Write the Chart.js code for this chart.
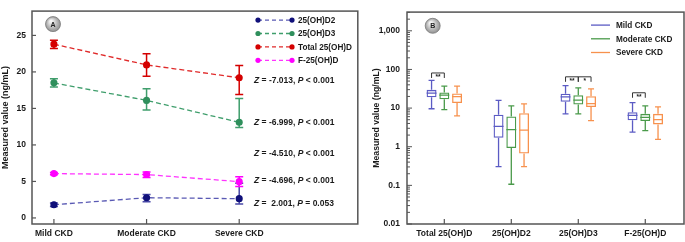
<!DOCTYPE html>
<html><head><meta charset="utf-8">
<script src="https://cdn.jsdelivr.net/npm/chart.js@4/dist/chart.umd.min.js"></script>
<style>
html,body{margin:0;padding:0;background:#fff;}
body{width:685px;height:242px;overflow:hidden;position:relative;}
#ca{position:absolute;left:0;top:0;}
#cb{position:absolute;left:362px;top:0;}
</style></head>
<body>
<canvas id="ca" width="362" height="242" style="width:362px;height:242px"></canvas>
<canvas id="cb" width="323" height="242" style="width:323px;height:242px"></canvas>
<script>
// ---------- Panel A data ----------
const catsA = ['Mild CKD', 'Moderate CKD', 'Severe CKD'];
const yTicksA = [0, 5, 10, 15, 20, 25];
const namesA = ['25(OH)D2', '25(OH)D3', 'Total 25(OH)D', 'F-25(OH)D'];
const d2Mean = [1.81, 2.77, 2.64];
const d2Low  = [1.58, 2.22, 1.90];
const d2High = [2.04, 3.20, 4.75];
const d3Mean = [18.5, 16.1, 13.1];
const d3Low  = [17.95, 14.8, 12.4];
const d3High = [19.05, 17.7, 16.35];
const totMean = [23.8, 20.96, 19.2];
const totLow  = [23.2, 19.4, 16.9];
const totHigh = [24.35, 22.5, 20.87];
const fMean = [6.07, 5.94, 4.97];
const fLow  = [5.90, 5.54, 4.30];
const fHigh = [6.24, 6.29, 5.63];
const zValues = [-7.013, -6.999, -4.510, -4.696, 2.001];
const pSigns  = ['<', '<', '<', '<', '='];
const pValues = ['0.001', '0.001', '0.001', '0.001', '0.053'];

// ---------- Panel B data ----------
const catsB = ['Total 25(OH)D', '25(OH)D2', '25(OH)D3', 'F-25(OH)D'];
const groupsB = ['Mild CKD', 'Moderate CKD', 'Severe CKD'];
const yTicksB = [0.01, 0.1, 1, 10, 100, 1000];
const yTickLabelsB = ['0.01', '0.1', '1', '10', '100', '1,000'];
const mildMin = [9.6, 0.306, 7.1, 2.4];
const mildQ1  = [19.1, 1.70, 14.6, 4.84];
const mildMed = [24.4, 3.38, 19.4, 6.44];
const mildQ3  = [29.6, 6.7, 23.5, 7.8];
const mildMax = [52.4, 15.8, 37.9, 13.8];
const modMin = [9.1, 0.107, 7.1, 2.62];
const modQ1  = [17.0, 0.92, 12.3, 4.65];
const modMed = [21.7, 2.78, 16.1, 5.74];
const modQ3  = [25.4, 6.1, 21.4, 7.1];
const modMax = [37.2, 11.4, 33.2, 11.4];
const sevMin = [6.3, 0.306, 4.75, 1.55];
const sevQ1  = [13.5, 0.667, 10.6, 3.78];
const sevMed = [19.9, 2.69, 13.0, 5.03];
const sevQ3  = [24.0, 7.35, 20.2, 7.1];
const sevMax = [37.0, 12.8, 31.3, 10.8];
const sigCats   = [0, 2, 2, 3];
const sigFrom   = [0, 0, 1, 0];
const sigTo     = [1, 1, 2, 1];
const sigLabels = ['**', '**', '*', '**'];

// ---------- styling / layout (not data) ----------
const FONT = "'Liberation Sans', Arial, Helvetica, sans-serif";
const TXT = '#1a1a1a';
const FRAME = '#555555';
const styA = [
  {line: '#5a5ab4', dot: '#10107a', err: '#4a4aa8'},
  {line: '#3f9e6c', dot: '#2f8f5c', err: '#3f9e6c'},
  {line: '#e02a2a', dot: '#d40000', err: '#d40000'},
  {line: '#ff33ff', dot: '#ff00ff', err: '#ff00ff'}
];
const colB = ['#5b5bc4', '#4a9a4a', '#f7914d'];
const statYA = [18.83, 13.02, 8.8, 5.1, 1.94]; // annotation rows (value units)
const statXA = 2.16;
const sigLevelB = [81, 64.4, 64.4, 24.9];

const seriesA = [
  {mean: d2Mean, low: d2Low, high: d2High},
  {mean: d3Mean, low: d3Low, high: d3High},
  {mean: totMean, low: totLow, high: totHigh},
  {mean: fMean, low: fLow, high: fHigh}
];

function drawFrame(chart) {
  const {ctx, chartArea: a} = chart;
  ctx.save();
  ctx.strokeStyle = FRAME; ctx.lineWidth = 1.5;
  ctx.strokeRect(a.left, a.top, a.right - a.left, a.bottom - a.top);
  ctx.restore();
}
function badge(ctx, cx, cy, letter) {
  ctx.save();
  const g = ctx.createRadialGradient(cx - 2, cy - 3, 1, cx, cy, 8);
  g.addColorStop(0, '#f6f6f6'); g.addColorStop(1, '#8c8c8c');
  ctx.beginPath(); ctx.arc(cx, cy, 7.5, 0, 2 * Math.PI);
  ctx.fillStyle = g; ctx.fill();
  ctx.strokeStyle = '#7a7a7a'; ctx.lineWidth = 0.8; ctx.stroke();
  ctx.fillStyle = '#222'; ctx.font = 'bold 7px ' + FONT;
  ctx.textAlign = 'center'; ctx.textBaseline = 'middle';
  ctx.fillText(letter, cx, cy + 0.5);
  ctx.restore();
}

// ---------- Panel A ----------
const plugA = {
  id: 'plugA',
  beforeDatasetsDraw(chart) {
    const {ctx, scales: {x, y}} = chart;
    ctx.save();
    seriesA.forEach((s, k) => {
      ctx.strokeStyle = styA[k].err; ctx.lineWidth = 1.5;
      s.mean.forEach((m, i) => {
        const px = x.getPixelForValue(i);
        const lo = y.getPixelForValue(s.low[i]);
        const hi = y.getPixelForValue(s.high[i]);
        ctx.beginPath();
        ctx.moveTo(px, lo); ctx.lineTo(px, hi);
        ctx.moveTo(px - 4, lo); ctx.lineTo(px + 4, lo);
        ctx.moveTo(px - 4, hi); ctx.lineTo(px + 4, hi);
        ctx.stroke();
      });
    });
    ctx.restore();
  },
  afterDraw(chart) {
    const {ctx, chartArea: a, scales: {x, y}} = chart;
    drawFrame(chart);
    ctx.save();
    ctx.strokeStyle = FRAME; ctx.lineWidth = 1.2;
    yTicksA.forEach(v => { const py = y.getPixelForValue(v); ctx.beginPath(); ctx.moveTo(a.left, py); ctx.lineTo(a.left + 4, py); ctx.stroke(); });
    catsA.forEach((c, i) => { const px = x.getPixelForValue(i); ctx.beginPath(); ctx.moveTo(px, a.bottom); ctx.lineTo(px, a.bottom - 5); ctx.stroke(); });
    // legend
    ctx.textAlign = 'left'; ctx.textBaseline = 'middle';
    namesA.forEach((n, k) => {
      const ly = a.top + 9 + k * 13.4, lx0 = 258, lx1 = 292;
      ctx.strokeStyle = styA[k].line; ctx.lineWidth = 1.3; ctx.setLineDash([4, 3]);
      ctx.beginPath(); ctx.moveTo(lx0, ly); ctx.lineTo(lx1, ly); ctx.stroke();
      ctx.setLineDash([]);
      ctx.fillStyle = styA[k].dot;
      [lx0, lx1].forEach(px => { ctx.beginPath(); ctx.arc(px, ly, 2.6, 0, 2 * Math.PI); ctx.fill(); });
      ctx.fillStyle = TXT; ctx.font = 'bold 8.2px ' + FONT;
      ctx.fillText(n, 298, ly + 0.5);
    });
    // statistics
    zValues.forEach((z, i) => {
      let px = x.getPixelForValue(statXA);
      const py = y.getPixelForValue(statYA[i]);
      const zs = z < 0 ? z.toFixed(3) : ' ' + z.toFixed(3);
      const parts = [['Z', 'italic bold'], [' = ' + zs + ', ', 'bold'], ['P', 'italic bold'], [' ' + pSigns[i] + ' ' + pValues[i], 'bold']];
      ctx.fillStyle = TXT;
      parts.forEach(([t, st]) => { ctx.font = st + ' 8.5px ' + FONT; ctx.fillText(t, px, py); px += ctx.measureText(t).width; });
    });
    ctx.restore();
    badge(ctx, a.left + 21, a.top + 13, 'A');
  }
};

new Chart(document.getElementById('ca'), {
  type: 'line',
  data: {
    datasets: seriesA.map((s, k) => ({
      label: namesA[k],
      data: s.mean.map((v, i) => ({x: i, y: v})),
      borderColor: styA[k].line, backgroundColor: styA[k].dot,
      pointBackgroundColor: styA[k].dot, pointBorderColor: styA[k].dot,
      borderDash: [5, 3], borderWidth: 1.3, pointRadius: 2.9, pointHoverRadius: 2.9,
      fill: false, tension: 0
    }))
  },
  options: {
    responsive: false, animation: false, devicePixelRatio: 1,
    layout: {padding: {top: 3, right: 3, left: 0, bottom: 0}},
    plugins: {legend: {display: false}, tooltip: {enabled: false}},
    scales: {
      x: {
        type: 'linear', min: -0.2366, max: 3.28,
        afterBuildTicks: s => { s.ticks = catsA.map((c, i) => ({value: i})); },
        afterFit: s => { s.height = 18; },
        ticks: {callback: v => catsA[v], font: {family: FONT, size: 8.5, weight: 'bold'}, color: TXT, padding: 5, maxRotation: 0, autoSkip: false},
        grid: {display: false, drawTicks: false, tickLength: 0},
        border: {display: false}
      },
      y: {
        min: -0.83, max: 28.33,
        afterBuildTicks: s => { s.ticks = yTicksA.map(v => ({value: v})); },
        afterFit: s => { s.width = 32; },
        ticks: {font: {family: FONT, size: 8.5, weight: 'bold'}, color: TXT, padding: 6},
        grid: {display: false, drawTicks: false, tickLength: 0},
        border: {display: false},
        title: {display: true, text: 'Measured value (ng/mL)', font: {family: FONT, size: 9, weight: 'bold'}, color: TXT, padding: {top: 0, bottom: 0}}
      }
    }
  },
  plugins: [plugA]
});

// ---------- Panel B ----------
const boxData = [
  {min: mildMin, q1: mildQ1, med: mildMed, q3: mildQ3, max: mildMax},
  {min: modMin, q1: modQ1, med: modMed, q3: modQ3, max: modMax},
  {min: sevMin, q1: sevQ1, med: sevMed, q3: sevQ3, max: sevMax}
];

const plugB = {
  id: 'plugB',
  afterDatasetsDraw(chart) {
    const {ctx, scales: {y}} = chart;
    ctx.save();
    boxData.forEach((b, k) => {
      const meta = chart.getDatasetMeta(k);
      ctx.strokeStyle = colB[k]; ctx.lineWidth = 1.3;
      meta.data.forEach((el, i) => {
        const px = el.x, hw = el.width / 2, cw = 3;
        const pMin = y.getPixelForValue(b.min[i]), pQ1 = y.getPixelForValue(b.q1[i]);
        const pQ3 = y.getPixelForValue(b.q3[i]), pMax = y.getPixelForValue(b.max[i]);
        const pMed = y.getPixelForValue(b.med[i]);
        ctx.beginPath();
        ctx.moveTo(px, pQ3); ctx.lineTo(px, pMax);
        ctx.moveTo(px - cw, pMax); ctx.lineTo(px + cw, pMax);
        ctx.moveTo(px, pQ1); ctx.lineTo(px, pMin);
        ctx.moveTo(px - cw, pMin); ctx.lineTo(px + cw, pMin);
        ctx.moveTo(px - hw, pMed); ctx.lineTo(px + hw, pMed);
        ctx.stroke();
      });
    });
    // significance brackets
    ctx.strokeStyle = '#333'; ctx.lineWidth = 1; ctx.fillStyle = TXT;
    ctx.textAlign = 'center'; ctx.textBaseline = 'middle';
    sigCats.forEach((c, k) => {
      const xs = chart.getDatasetMeta(sigFrom[k]).data[c].x;
      const xe = chart.getDatasetMeta(sigTo[k]).data[c].x;
      const py = y.getPixelForValue(sigLevelB[k]);
      ctx.beginPath();
      ctx.moveTo(xs, py + 5); ctx.lineTo(xs, py); ctx.lineTo(xe, py); ctx.lineTo(xe, py + 5);
      ctx.stroke();
      ctx.font = 'bold 6.5px ' + FONT;
      ctx.fillText(sigLabels[k], (xs + xe) / 2, py + 4);
    });
    ctx.restore();
  },
  afterDraw(chart) {
    const {ctx, chartArea: a, scales: {x, y}} = chart;
    drawFrame(chart);
    ctx.save();
    ctx.strokeStyle = FRAME; ctx.lineWidth = 1;
    for (let d = -2; d <= 3; d++) {
      for (let m = 1; m <= 9; m++) {
        const v = m * Math.pow(10, d);
        if (v > y.max) break;
        const py = y.getPixelForValue(v);
        ctx.beginPath(); ctx.moveTo(a.left, py); ctx.lineTo(a.left + (m === 1 ? 5 : 3), py); ctx.stroke();
      }
    }
    ctx.lineWidth = 1.2;
    catsB.forEach((c, i) => { const px = x.getPixelForValue(i); ctx.beginPath(); ctx.moveTo(px, a.bottom); ctx.lineTo(px, a.bottom - 5); ctx.stroke(); });
    // legend
    ctx.textAlign = 'left'; ctx.textBaseline = 'middle';
    groupsB.forEach((g, k) => {
      const ly = a.top + 13 + k * 13.7;
      ctx.strokeStyle = colB[k]; ctx.lineWidth = 1.3;
      ctx.beginPath(); ctx.moveTo(229, ly); ctx.lineTo(248, ly); ctx.stroke();
      ctx.fillStyle = TXT; ctx.font = 'bold 8.2px ' + FONT;
      ctx.fillText(g, 254, ly + 0.5);
    });
    ctx.restore();
    badge(ctx, a.left + 25.7, a.top + 13.7, 'B');
  }
};

new Chart(document.getElementById('cb'), {
  type: 'bar',
  data: {
    datasets: boxData.map((b, k) => ({
      label: groupsB[k],
      data: catsB.map((c, i) => ({x: i, y: [b.q1[i], b.q3[i]]})),
      backgroundColor: 'rgba(255,255,255,0)',
      borderColor: colB[k], borderWidth: 1.3, borderSkipped: false,
      categoryPercentage: 0.571, barPercentage: 0.78
    }))
  },
  options: {
    responsive: false, animation: false, devicePixelRatio: 1,
    layout: {padding: {top: 3, right: 1, left: 0, bottom: 0}},
    plugins: {legend: {display: false}, tooltip: {enabled: false}},
    scales: {
      x: {
        type: 'linear', min: -0.557, max: 3.578, offset: false,
        afterBuildTicks: s => { s.ticks = catsB.map((c, i) => ({value: i})); },
        afterFit: s => { s.height = 18; },
        ticks: {callback: v => catsB[v], font: {family: FONT, size: 8.5, weight: 'bold'}, color: TXT, padding: 5, maxRotation: 0, autoSkip: false},
        grid: {display: false, drawTicks: false, tickLength: 0, offset: false},
        border: {display: false}
      },
      y: {
        type: 'logarithmic', min: 0.01, max: 3048,
        afterBuildTicks: s => { s.ticks = yTicksB.map(v => ({value: v, major: true})); },
        afterFit: s => { s.width = 45; },
        ticks: {callback: v => yTickLabelsB[yTicksB.indexOf(v)], font: {family: FONT, size: 8.5, weight: 'bold'}, color: TXT, padding: 7, autoSkip: false},
        grid: {display: false, drawTicks: false, tickLength: 0},
        border: {display: false},
        title: {display: true, text: 'Measured value (ng/mL)', font: {family: FONT, size: 8.7, weight: 'bold'}, color: TXT, padding: {top: 9, bottom: 0}}
      }
    }
  },
  plugins: [plugB]
});
</script>
</body></html>
